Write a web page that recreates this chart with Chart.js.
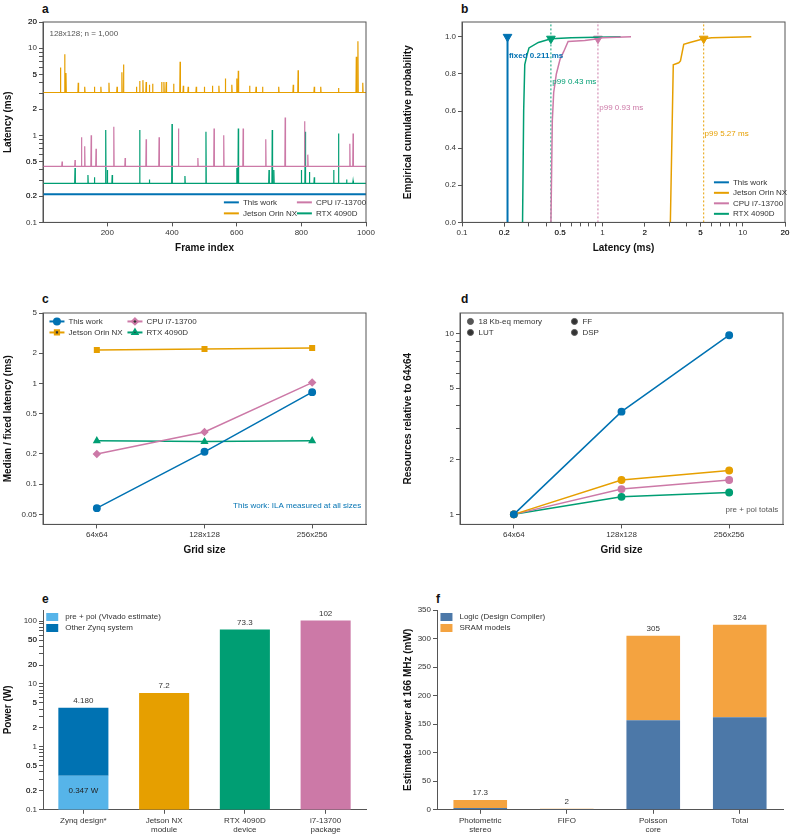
<!DOCTYPE html>
<html><head><meta charset="utf-8">
<script src="https://cdn.jsdelivr.net/npm/chart.js@4/dist/chart.umd.min.js"></script>
<style>
body{margin:0;width:793px;height:837px;background:#fff;position:relative;overflow:hidden;font-family:'Liberation Sans',Arial,sans-serif}
canvas{position:absolute}
.lt{position:absolute;font-weight:bold;font-size:12px;color:#111}
</style></head><body>
<div class="lt" style="left:42px;top:2px">a</div>
<div class="lt" style="left:461px;top:2px">b</div>
<div class="lt" style="left:42px;top:292px">c</div>
<div class="lt" style="left:461px;top:292px">d</div>
<div class="lt" style="left:42px;top:592px">e</div>
<div class="lt" style="left:436px;top:592px">f</div>
<canvas id="ca" style="left:0;top:0"></canvas>
<canvas id="cb" style="left:400px;top:0"></canvas>
<canvas id="cc" style="left:0;top:290px"></canvas>
<canvas id="cd" style="left:400px;top:290px"></canvas>
<canvas id="ce" style="left:0;top:590px"></canvas>
<canvas id="cf" style="left:400px;top:590px"></canvas>
<script>
// colours
const BLUE = '#0072B2', ORANGE = '#E69F00', PINK = '#CC79A7', GREEN = '#009E73', SKY = '#56B4E9';

// ---- panel a: per-frame latency (baseline + spikes [frame, ms])
const frames = [1, 1000];
const thisWorkLat = 0.211;
const jetsonBase = 3.1;
const jetsonSpikes = [[55,6],[68,8.5],[72,5.2],[110,4],[130,3.6],[160,3.6],[180,3.6],[205,4.0],[230,3.6],[245,5.3],[250,6.5],[290,3.6],[300,4.2],[310,4.3],[320,4.1],[330,3.8],[340,3.9],[368,4.1],[375,4.1],[382,4.1],[405,3.9],[425,7],[435,3.7],[450,3.6],[475,3.6],[500,3.6],[525,3.7],[545,3.7],[565,4.5],[585,3.8],[600,4.5],[605,5.5],[640,3.7],[660,3.6],[680,3.6],[730,3.6],[775,3.8],[790,5.6],[840,3.6],[860,3.6],[915,3.5],[970,8],[975,12],[990,4]];
const cpuBase = 0.44;
const cpuSpikes = [[60,0.5],[100,0.52],[120,0.95],[130,0.75],[150,1.0],[165,0.7],[220,1.25],[255,0.55],[320,0.9],[360,0.95],[420,1.2],[480,0.55],[530,1.2],[560,1.0],[620,1.2],[690,0.9],[750,1.6],[810,1.45],[820,0.6],[950,0.8],[960,1.05]];
const rtxBase = 0.28;
const rtxSpikes = [[100,0.42],[140,0.35],[160,0.33],[195,1.15],[200,0.4],[215,0.35],[300,1.15],[330,0.31],[400,1.35],[440,0.34],[505,1.1],[600,0.42],[605,1.2],[700,0.4],[710,1.15],[715,0.4],[800,0.4],[812,1.1],[825,0.38],[840,0.33],[900,0.4],[915,1.05],[940,0.31],[960,0.3]];

// ---- panel b: empirical CDF points [ms, p]
const rtxCdf = [[0.27,0],[0.275,0.6],[0.28,0.85],[0.29,0.9],[0.3,0.94],[0.35,0.97],[0.43,0.99],[0.6,0.995],[1.35,1.0]];
const cpuCdf = [[0.43,0],[0.44,0.55],[0.45,0.7],[0.47,0.8],[0.5,0.88],[0.53,0.92],[0.57,0.975],[0.75,0.98],[0.93,0.99],[1.0,0.995],[1.6,1.0]];
const jetsonCdf = [[3.05,0],[3.2,0.85],[3.5,0.86],[3.6,0.87],[3.8,0.96],[4.2,0.97],[5.27,0.99],[6,0.995],[11.5,1.0]];
const p99 = {rtx: 0.43, cpu: 0.93, jetson: 5.27};

// ---- panel c
const grids = ['64x64', '128x128', '256x256'];
const cThisWork = [0.058, 0.21, 0.82];
const cJetson = [2.15, 2.2, 2.25];
const cCpu = [0.2, 0.33, 1.02];
const cRtx = [0.27, 0.265, 0.27];

// ---- panel d
const dMemory = [1, 3.7, 9.8];
const dLut = [1, 1.55, 1.75];
const dFf = [1, 1.38, 1.55];
const dDsp = [1, 1.25, 1.32];

// ---- panel e
const eLabels = ['Zynq design*', ['Jetson NX', 'module'], ['RTX 4090D', 'device'], ['i7-13700', 'package']];
const zynqPrePoi = 0.347, zynqTotal = 4.180;
const ePower = [null, 7.2, 73.3, 102];

// ---- panel f
const fLabels = [['Photometric', 'stereo'], 'FIFO', ['Poisson', 'core'], 'Total'];
const fLogic = [3, 1.5, 157, 162];
const fSram = [14.3, 0.5, 148, 162];
const fTotals = [17.3, 2, 305, 324];

Chart.defaults.font.family = "'Liberation Sans', Arial, sans-serif";
Chart.defaults.font.size = 8;
Chart.defaults.color = '#333';
Chart.defaults.animation = false;
Chart.defaults.plugins.legend.display = false;
Chart.defaults.plugins.tooltip.enabled = false;

const fmt = v => +v.toPrecision(3) + '';
function axis(type, min, max, major, minor, title, side) {
  const all = (major || []).concat(minor || []);
  const a = {
    type, min, max,
    border: {color: '#555', width: 1},
    grid: {drawOnChartArea: false, tickLength: 4, color: '#555'},
    ticks: {color: '#333', padding: 2, autoSkip: false, maxRotation: 0},
    title: title ? {display: true, text: title, font: {size: 10, weight: 'bold'}, color: '#111', padding: 2} : {display: false}
  };
  if (major) {
    a.afterBuildTicks = ax => { ax.ticks = all.map(v => ({value: v})); };
    a.ticks.callback = v => major.includes(v) ? fmt(v) : '';
  }
  if (side) a.afterFit = ax => { ax.width = side; };
  return a;
}
const logMinor = (lo, hi) => { const r = []; for (let d = lo; d < hi; d *= 10) for (let k = 2; k <= 9; k++) { const v = +(k * d).toPrecision(3); if (v <= hi) r.push(v); } return r; };

// frame plugin (full box), custom legend and text notes
const helpers = {
  id: 'helpers',
  afterDraw(chart, args, o) {
    const ctx = chart.ctx, ca = chart.chartArea;
    ctx.save();
    if (o.box) { ctx.strokeStyle = '#555'; ctx.lineWidth = 1; ctx.strokeRect(ca.left, ca.top, ca.width, ca.height); }
    (o.notes || []).forEach(n => {
      let x, y;
      if (n.frac) { x = ca.left + n.x * ca.width; y = ca.top + n.y * ca.height; }
      else { x = chart.scales[n.sx || 'x'].getPixelForValue(n.x); y = chart.scales.y.getPixelForValue(n.y); }
      ctx.fillStyle = n.color || '#555';
      ctx.font = (n.bold ? 'bold ' : '') + (n.size || 8) + "px 'Liberation Sans', Arial";
      ctx.textAlign = n.align || 'left'; ctx.textBaseline = 'middle';
      ctx.fillText(n.text, x, y);
    });
    if (o.legend) {
      const L = o.legend;
      L.items.forEach((di, i) => {
        const ds = chart.data.datasets[di];
        const x = ca.left + L.x * ca.width + (i % L.cols) * L.colW;
        const y = ca.top + L.y * ca.height + Math.floor(i / L.cols) * L.rowH;
        const col = ds.legendColor || ds.borderColor;
        if (L.kind === 'rect') { ctx.fillStyle = col; ctx.fillRect(x, y - 4, 12, 8); }
        else {
          if (L.kind !== 'point') { ctx.strokeStyle = col; ctx.lineWidth = 2; ctx.beginPath(); ctx.moveTo(x, y); ctx.lineTo(x + 15, y); ctx.stroke(); }
          if (L.kind !== 'line') Chart.helpers.drawPoint(ctx, {pointStyle: ds.pointStyle, radius: 3, rotation: 0, borderWidth: 1}, x + (L.kind === 'point' ? 4 : 7.5), y);
        }
        ctx.fillStyle = '#333'; ctx.font = "8px 'Liberation Sans', Arial"; ctx.textAlign = 'left'; ctx.textBaseline = 'middle';
        ctx.fillText(ds.label, x + (L.kind === 'point' ? 12 : 19), y);
      });
    }
    if (o.barValues) {
      ctx.fillStyle = '#333'; ctx.font = "8px 'Liberation Sans', Arial"; ctx.textAlign = 'center'; ctx.textBaseline = 'bottom';
      o.barValues.forEach(b => {
        const el = chart.getDatasetMeta(b.ds).data[b.i];
        ctx.fillText(b.text, el.x, el.y - 3);
      });
    }
    ctx.restore();
  }
};
Chart.register(helpers);

function make(id, w, h, cfg) {
  const c = document.getElementById(id);
  c.style.width = w + 'px'; c.style.height = h + 'px'; c.width = w; c.height = h;
  cfg.options.responsive = false;
  return new Chart(c, cfg);
}
const spikeSeries = (base, spikes) => {
  const pts = [{x: frames[0], y: base}];
  spikes.forEach(([f, v]) => { pts.push({x: f - 1, y: base}, {x: f, y: v}, {x: f + 1, y: base}); });
  pts.push({x: frames[1], y: base});
  return pts;
};
const pts = arr => arr.map(([x, y]) => ({x, y}));
const lineDs = (label, data, color, extra) => Object.assign({label, data, borderColor: color, backgroundColor: color, borderWidth: 1.2, pointRadius: 0, tension: 0}, extra || {});

// a
make('ca', 390, 260, {
  type: 'line',
  data: {datasets: [
    lineDs('This work', [{x: frames[0], y: thisWorkLat}, {x: frames[1], y: thisWorkLat}], BLUE, {borderWidth: 2}),
    lineDs('Jetson Orin NX', spikeSeries(jetsonBase, jetsonSpikes), ORANGE),
    lineDs('CPU i7-13700', spikeSeries(cpuBase, cpuSpikes), PINK),
    lineDs('RTX 4090D', spikeSeries(rtxBase, rtxSpikes), GREEN)
  ]},
  options: {
    layout: {padding: {top: 22, right: 24, bottom: 4}},
    scales: {
      x: axis('linear', 1, 1000, [200, 400, 600, 800, 1000], null, 'Frame index'),
      y: axis('logarithmic', 0.1, 20, [0.1, 0.2, 0.5, 1, 2, 5, 10, 20], logMinor(0.1, 20), 'Latency (ms)', 43)
    },
    plugins: {helpers: {box: true,
      notes: [{frac: true, x: 0.02, y: 0.06, text: '128x128; n = 1,000', color: '#555'}],
      legend: {x: 0.56, y: 0.9, cols: 2, colW: 73, rowH: 11, items: [0, 2, 1, 3], kind: 'line'}}}
  }
});

// b
const markerDs = (x, y, color) => ({data: [{x, y}], showLine: false, pointStyle: 'triangle', rotation: 180, pointRadius: 5, backgroundColor: color, borderColor: color});
const vline = (x, color) => ({data: [{x, y: 0}, {x, y: 1.08}], borderColor: color, borderWidth: 1, borderDash: [2, 2], pointRadius: 0});
make('cb', 393, 260, {
  type: 'line',
  data: {datasets: [
    lineDs('This work', [{x: thisWorkLat, y: 0}, {x: thisWorkLat, y: 1}], BLUE, {borderWidth: 2}),
    lineDs('Jetson Orin NX', pts(jetsonCdf), ORANGE, {borderWidth: 1.5}),
    lineDs('CPU i7-13700', pts(cpuCdf), PINK, {borderWidth: 1.5}),
    lineDs('RTX 4090D', pts(rtxCdf), GREEN, {borderWidth: 1.5}),
    vline(p99.rtx, GREEN), vline(p99.cpu, PINK), vline(p99.jetson, ORANGE),
    markerDs(thisWorkLat, 1.0, BLUE), markerDs(p99.rtx, 0.99, GREEN), markerDs(p99.cpu, 0.99, PINK), markerDs(p99.jetson, 0.99, ORANGE)
  ]},
  options: {
    layout: {padding: {top: 22, right: 8, bottom: 4}},
    scales: {
      x: axis('logarithmic', 0.1, 20, [0.1, 0.2, 0.5, 1, 2, 5, 10, 20], logMinor(0.1, 20), 'Latency (ms)'),
      y: Object.assign(axis('linear', 0, 1.08, null, null, 'Empirical cumulative probability', 62),
        {afterBuildTicks: ax => { ax.ticks = [0, 0.2, 0.4, 0.6, 0.8, 1.0].map(v => ({value: v})); }, ticks: {callback: v => v.toFixed(1), padding: 2, color: '#333'}})
    },
    plugins: {helpers: {box: true,
      notes: [
        {x: 0.216, y: 0.9, text: 'fixed 0.211 ms', color: BLUE, bold: true},
        {x: 0.44, y: 0.76, text: 'p99 0.43 ms', color: GREEN},
        {x: 0.95, y: 0.62, text: 'p99 0.93 ms', color: PINK},
        {x: 5.35, y: 0.48, text: 'p99 5.27 ms', color: ORANGE}],
      legend: {x: 0.78, y: 0.8, cols: 1, colW: 0, rowH: 10.5, items: [0, 1, 2, 3], kind: 'line'}}}
  }
});

// c
const mk = (label, data, color, style) => ({label, data, borderColor: color, backgroundColor: color, borderWidth: 1.5, pointStyle: style, pointRadius: 3.2, tension: 0});
make('cc', 390, 272, {
  type: 'line',
  data: {labels: grids, datasets: [
    mk('This work', cThisWork, BLUE, 'circle'),
    mk('Jetson Orin NX', cJetson, ORANGE, 'rect'),
    mk('CPU i7-13700', cCpu, PINK, 'rectRot'),
    mk('RTX 4090D', cRtx, GREEN, 'triangle')
  ]},
  options: {
    layout: {padding: {top: 23, right: 24, bottom: 4}},
    scales: {
      x: Object.assign(axis('category', undefined, undefined, null, null, 'Grid size'), {offset: true}),
      y: axis('logarithmic', 0.04, 5, [0.05, 0.1, 0.2, 0.5, 1, 2, 5], null, 'Median / fixed latency (ms)', 43)
    },
    plugins: {helpers: {box: true,
      notes: [{frac: true, x: 0.985, y: 0.91, text: 'This work: ILA measured at all sizes', color: BLUE, align: 'right'}],
      legend: {x: 0.02, y: 0.04, cols: 2, colW: 78, rowH: 11, items: [0, 2, 1, 3], kind: 'both'}}}
  }
});

// d
make('cd', 393, 272, {
  type: 'line',
  data: {labels: grids, datasets: [
    mk('18 Kb-eq memory', dMemory, BLUE, 'circle'),
    mk('LUT', dLut, ORANGE, 'circle'),
    mk('FF', dFf, PINK, 'circle'),
    mk('DSP', dDsp, GREEN, 'circle')
  ]},
  options: {
    layout: {padding: {top: 23, right: 10, bottom: 4}},
    scales: {
      x: Object.assign(axis('category', undefined, undefined, null, null, 'Grid size'), {offset: true}),
      y: axis('logarithmic', 0.88, 13, [1, 2, 5, 10], [3, 4, 6, 7, 8, 9], 'Resources relative to 64x64', 60)
    },
    plugins: {helpers: {box: true,
      notes: [{frac: true, x: 0.985, y: 0.93, text: 'pre + poi totals', color: '#555', align: 'right'}],
      legend: {x: 0.02, y: 0.04, cols: 2, colW: 104, rowH: 11, items: [0, 2, 1, 3], kind: 'point'}}}
  }
});

// e
make('ce', 390, 247, {
  type: 'bar',
  data: {labels: eLabels, datasets: [
    {label: 'pre + poi (Vivado estimate)', data: [[0.1, zynqPrePoi], null, null, null], backgroundColor: SKY, legendColor: SKY, grouped: false},
    {label: 'Other Zynq system', data: [[zynqPrePoi, zynqTotal], null, null, null], backgroundColor: BLUE, legendColor: BLUE, grouped: false},
    {label: 'devices', data: ePower.map(v => v == null ? null : [0.1, v]), backgroundColor: [null, ORANGE, GREEN, PINK], grouped: false}
  ]},
  options: {
    barPercentage: 0.62, categoryPercentage: 1,
    layout: {padding: {top: 20, right: 24, bottom: 0}},
    scales: {
      x: Object.assign(axis('category'), {grid: {drawOnChartArea: false, tickLength: 4, color: '#555', offset: false}}),
      y: axis('logarithmic', 0.1, 150, [0.1, 0.2, 0.5, 1, 2, 5, 10, 20, 50, 100], logMinor(0.1, 150), 'Power (W)', 43)
    },
    plugins: {helpers: {
      notes: [{x: 0, sx: 'x', y: 0.2, text: '0.347 W', color: '#222', align: 'center'}],
      barValues: [{ds: 1, i: 0, text: '4.180'}, {ds: 2, i: 1, text: '7.2'}, {ds: 2, i: 2, text: '73.3'}, {ds: 2, i: 3, text: '102'}],
      legend: {x: 0.01, y: 0.035, cols: 1, colW: 0, rowH: 11, items: [0, 1], kind: 'rect'}}}
  }
});

// f
make('cf', 393, 247, {
  type: 'bar',
  data: {labels: fLabels, datasets: [
    {label: 'Logic (Design Compiler)', data: fLogic, backgroundColor: '#4C78A8', legendColor: '#4C78A8'},
    {label: 'SRAM models', data: fSram, backgroundColor: '#F4A340', legendColor: '#F4A340'}
  ]},
  options: {
    barPercentage: 0.62, categoryPercentage: 1,
    layout: {padding: {top: 20, right: 10, bottom: 0}},
    scales: {
      x: Object.assign(axis('category'), {stacked: true, grid: {drawOnChartArea: false, tickLength: 4, color: '#555', offset: false}}),
      y: Object.assign(axis('linear', 0, 350, null, null, 'Estimated power at 166 MHz (mW)', 37), {stacked: true, ticks: {stepSize: 50, padding: 2, color: '#333'}})
    },
    plugins: {helpers: {
      barValues: fTotals.map((t, i) => ({ds: 1, i, text: String(t)})),
      legend: {x: 0.01, y: 0.035, cols: 1, colW: 0, rowH: 11, items: [0, 1], kind: 'rect'}}}
  }
});
</script></body></html>
